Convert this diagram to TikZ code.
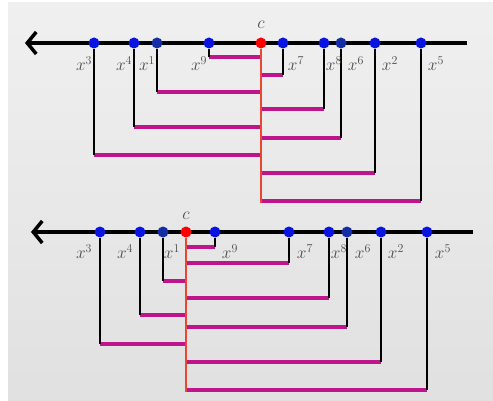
\documentclass[tikz,border=0pt]{standalone}
\usepackage{amsmath}
\usetikzlibrary{arrows.meta}

\definecolor{dotblue}{RGB}{10,20,225}
\definecolor{dotnavy}{RGB}{20,45,165}
\definecolor{barmag}{RGB}{190,20,140}
\definecolor{redln}{RGB}{235,70,50}
\definecolor{lblgray}{RGB}{75,75,75}

\begin{document}
\begin{tikzpicture}[
    x=1pt, y=-1pt, % pixel grid, y downwards
    thick, % line style
    > = {Straight Barb[length=9pt,width=22pt,line width=3.5pt]}, % arrow head style
    axis/.style ={line width=4pt, ->},
    dot/.style ={circle, fill=dotblue, inner sep=0pt, minimum size=11pt},
    navydot/.style ={dot, fill=dotnavy},
    cdot/.style ={dot, fill=red},
    stem/.style ={black, line width=1.4pt},
    bar/.style ={barmag, line width=4.5pt},
    redline/.style ={redln, line width=1.5pt},
    lbl/.style ={text=lblgray, font=\LARGE, inner sep=0.5pt},
]
\useasboundingbox (0,0) rectangle (493,401);
\fill[white] (0,0) rectangle (493,401);
\fill[top color=gray!12, bottom color=gray!24] (8,3) rectangle (493,401);

% ---- upper line ----
\coordinate (ta0) at (467,43);
\coordinate (ta1) at (25,43);
\draw[axis] (ta0) -- (ta1);

\node[dot] (t3) at (94,43) {};
\node[dot] (t4) at (134,43) {};
\node[navydot] (t1) at (157,43) {};
\node[dot] (t9) at (209,43) {};
\node[cdot] (tc) at (261,43) {};
\node[dot] (t7) at (283,43) {};
\node[dot] (t8) at (324,43) {};
\node[navydot] (t6) at (341,43) {};
\node[dot] (t2) at (375,43) {};
\node[dot] (t5) at (421,43) {};

\coordinate (t9b) at (209,57);
\coordinate (t7b) at (283,75);
\coordinate (t1b) at (157,92);
\coordinate (t8b) at (324,109);
\coordinate (t4b) at (134,127);
\coordinate (t6b) at (341,138);
\coordinate (t3b) at (94,155);
\coordinate (t2b) at (375,173);
\coordinate (t5b) at (421,201);
\coordinate (tcb) at (261,203);

\draw[bar] (t9b) -- (t9b -| tc);
\draw[bar] (t7b) -- (t7b -| tc);
\draw[bar] (t1b) -- (t1b -| tc);
\draw[bar] (t8b) -- (t8b -| tc);
\draw[bar] (t4b) -- (t4b -| tc);
\draw[bar] (t6b) -- (t6b -| tc);
\draw[bar] (t3b) -- (t3b -| tc);
\draw[bar] (t2b) -- (t2b -| tc);
\draw[bar] (t5b) -- (t5b -| tc);

\draw[stem] (t9.south) -- (t9b);
\draw[stem] (t7.south) -- (t7b);
\draw[stem] (t1.south) -- (t1b);
\draw[stem] (t8.south) -- (t8b);
\draw[stem] (t4.south) -- (t4b);
\draw[stem] (t6.south) -- (t6b);
\draw[stem] (t3.south) -- (t3b);
\draw[stem] (t2.south) -- (t2b);
\draw[stem] (t5.south) -- (t5b);
\draw[redline] (tc.south) -- (tcb);

\node[lbl] (ltc) at (261,25) {$c$};
\node[lbl, anchor=north east] (lt3) at (93,56) {$x^3$};
\node[lbl, anchor=north east] (lt4) at (133,56) {$x^4$};
\node[lbl, anchor=north east] (lt1) at (156,56) {$x^1$};
\node[lbl, anchor=north east] (lt9) at (208,56) {$x^9$};
\node[lbl, anchor=north west] (lt7) at (287,56) {$x^7$};
\node[lbl, anchor=north west] (lt8) at (325,56) {$x^8$};
\node[lbl, anchor=north west] (lt6) at (347,56) {$x^6$};
\node[lbl, anchor=north west] (lt2) at (381,56) {$x^2$};
\node[lbl, anchor=north west] (lt5) at (427,56) {$x^5$};

% ---- lower line ----
\coordinate (ba0) at (473,232);
\coordinate (ba1) at (31,232);
\draw[axis] (ba0) -- (ba1);

\node[dot] (b3) at (100,232) {};
\node[dot] (b4) at (140,232) {};
\node[navydot] (b1) at (163,232) {};
\node[cdot] (bc) at (186,232) {};
\node[dot] (b9) at (215,232) {};
\node[dot] (b7) at (289,232) {};
\node[dot] (b8) at (329,232) {};
\node[navydot] (b6) at (347,232) {};
\node[dot] (b2) at (381,232) {};
\node[dot] (b5) at (427,232) {};

\coordinate (b9b) at (215,247);
\coordinate (b7b) at (289,263);
\coordinate (b1b) at (163,281);
\coordinate (b8b) at (329,298);
\coordinate (b4b) at (140,315);
\coordinate (b6b) at (347,327);
\coordinate (b3b) at (100,344);
\coordinate (b2b) at (381,362);
\coordinate (b5b) at (427,390);
\coordinate (bcb) at (186,392);

\draw[bar] (b9b) -- (b9b -| bc);
\draw[bar] (b7b) -- (b7b -| bc);
\draw[bar] (b1b) -- (b1b -| bc);
\draw[bar] (b8b) -- (b8b -| bc);
\draw[bar] (b4b) -- (b4b -| bc);
\draw[bar] (b6b) -- (b6b -| bc);
\draw[bar] (b3b) -- (b3b -| bc);
\draw[bar] (b2b) -- (b2b -| bc);
\draw[bar] (b5b) -- (b5b -| bc);

\draw[stem] (b9.south) -- (b9b);
\draw[stem] (b7.south) -- (b7b);
\draw[stem] (b1.south) -- (b1b);
\draw[stem] (b8.south) -- (b8b);
\draw[stem] (b4.south) -- (b4b);
\draw[stem] (b6.south) -- (b6b);
\draw[stem] (b3.south) -- (b3b);
\draw[stem] (b2.south) -- (b2b);
\draw[stem] (b5.south) -- (b5b);
\draw[redline] (bc.south) -- (bcb);

\node[lbl] (lbc) at (186,216) {$c$};
\node[lbl, anchor=north east] (lb3) at (93,244) {$x^3$};
\node[lbl, anchor=north east] (lb4) at (134,244) {$x^4$};
\node[lbl, anchor=north west] (lb1) at (163,244) {$x^1$};
\node[lbl, anchor=north west] (lb9) at (221,244) {$x^9$};
\node[lbl, anchor=north west] (lb7) at (296,244) {$x^7$};
\node[lbl, anchor=north west] (lb8) at (330,244) {$x^8$};
\node[lbl, anchor=north west] (lb6) at (354,244) {$x^6$};
\node[lbl, anchor=north west] (lb2) at (387,244) {$x^2$};
\node[lbl, anchor=north west] (lb5) at (434,244) {$x^5$};
\end{tikzpicture}
\end{document}
